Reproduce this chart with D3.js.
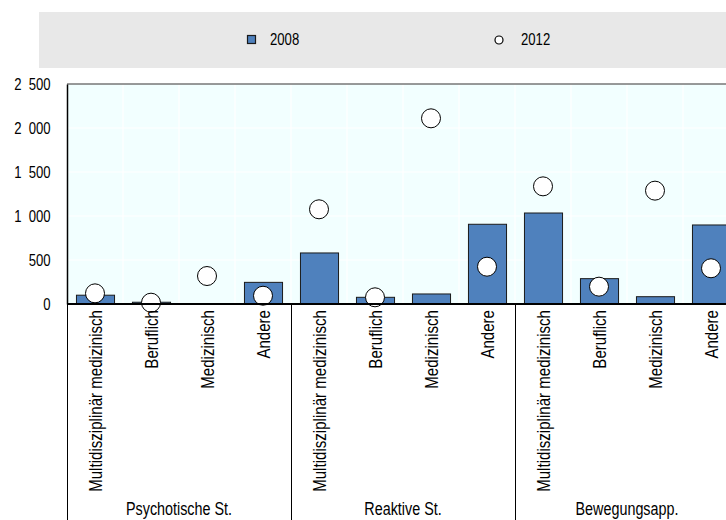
<!DOCTYPE html>
<html><head><meta charset="utf-8">
<script src="https://cdn.jsdelivr.net/npm/d3@7"></script>
<style>body{margin:0;background:#fff}svg{display:block}text{font-family:"Liberation Sans",Arial,sans-serif;fill:#000}</style>
</head><body>
<svg id="c" width="726" height="520"></svg>
<script>
const groups = ["Psychotische St.", "Reaktive St.", "Bewegungsapp."];
const items = ["Multidisziplinär medizinisch", "Beruflich", "Medizinisch", "Andere"];
const values2008 = [100, 20, 4, 246, 580, 76, 114, 906, 1034, 288, 83, 898];
const values2012 = [121, 15, 318, 94, 1076, 76, 2110, 424, 1337, 197, 1288, 406];
const yTicks = [0, 500, 1000, 1500, 2000, 2500];
const seriesNames = ["2008", "2012"];

const data = [];
groups.forEach((g, gi) => items.forEach((it, ii) => {
  const k = gi * items.length + ii;
  data.push({key: g + "|" + it, group: g, item: it, v08: values2008[k], v12: values2012[k]});
}));

const NX = 0.82; // narrow-font emulation
const svg = d3.select("#c");
const L = 67, R = 739, T = 84, B = 304;
const x = d3.scaleBand().domain(data.map(d => d.key)).range([L, R]).paddingInner(0.32).paddingOuter(0.16);
const xb = d3.scaleBand().domain(data.map(d => d.key)).range([L, R]);
const gx = d3.scaleBand().domain(groups).range([L, R]);
const y = d3.scaleLinear().domain([0, 2500]).range([B, T]);

// legend
svg.append("rect").attr("x", 39).attr("y", 12).attr("width", 687).attr("height", 56).attr("fill", "#e8e8e8");
svg.append("rect").attr("x", 247.5).attr("y", 35.5).attr("width", 8).attr("height", 8).attr("fill", "#4f81bd").attr("stroke", "#1a1a1a").attr("stroke-width", 1.2);
svg.append("text").attr("transform", `translate(270,45) scale(${NX},1)`).attr("font-size", 16).text(seriesNames[0]);
svg.append("circle").attr("cx", 499).attr("cy", 40).attr("r", 4).attr("fill", "#fff").attr("stroke", "#000").attr("stroke-width", 1.2);
svg.append("text").attr("transform", `translate(521,45) scale(${NX},1)`).attr("font-size", 16).text(seriesNames[1]);

// plot bg
svg.append("rect").attr("x", L).attr("y", T).attr("width", R - L).attr("height", B - T).attr("fill", "#f2ffff");
// gridlines
svg.append("g").selectAll("line").data(yTicks.slice(1)).join("line")
  .attr("x1", L).attr("x2", R).attr("y1", d => y(d)).attr("y2", d => y(d)).attr("stroke", "#fff").attr("stroke-width", 1.2);
svg.append("g").selectAll("line").data(data.slice(1)).join("line")
  .attr("x1", d => xb(d.key)).attr("x2", d => xb(d.key)).attr("y1", T).attr("y2", B).attr("stroke", "#fff").attr("stroke-width", 1.2);

// bars
svg.append("g").selectAll("rect").data(data).join("rect")
  .attr("x", d => x(d.key) + 0.5).attr("y", d => y(d.v08)).attr("width", x.bandwidth())
  .attr("height", d => B - y(d.v08)).attr("fill", "#4f81bd").attr("stroke", "#1a1a1a").attr("stroke-width", 1);

// top border and y axis
svg.append("line").attr("x1", L).attr("x2", R).attr("y1", T).attr("y2", T).attr("stroke", "#333").attr("stroke-width", 1);
const yAxis = d3.axisLeft(y).tickValues(yTicks).tickSize(0).tickPadding(20)
  .tickFormat(d => d3.format(",")(d).replace(/,/g, "\u00a0\u00a0"));
const ya = svg.append("g").attr("transform", `translate(${L},0)`).call(yAxis);
ya.select(".domain").attr("stroke", "#000").attr("stroke-width", 1.5);
ya.selectAll("text").attr("font-size", 16).attr("font-family", null).attr("fill", "#000")
  .attr("transform", `scale(${NX},1)`);

// circles
svg.append("g").selectAll("circle").data(data).join("circle")
  .attr("cx", d => xb(d.key) + xb.bandwidth() / 2).attr("cy", d => y(d.v12)).attr("r", 9.5)
  .attr("fill", "#fff").attr("stroke", "#000").attr("stroke-width", 1);

// baseline
svg.append("line").attr("x1", L).attr("x2", R).attr("y1", B).attr("y2", B).attr("stroke", "#000").attr("stroke-width", 2);

// category separators
svg.append("g").selectAll("line").data(groups).join("line")
  .attr("x1", d => Math.round(gx(d)) + 0.5).attr("x2", d => Math.round(gx(d)) + 0.5).attr("y1", B).attr("y2", 520)
  .attr("stroke", "#000").attr("stroke-width", 1);

// item labels (rotated)
svg.append("g").selectAll("text").data(data).join("text")
  .attr("transform", d => `translate(${xb(d.key) + xb.bandwidth() / 2 + 6.5},310) rotate(-90) scale(${NX},1)`)
  .attr("text-anchor", "end").attr("font-size", 18.4).text(d => d.item);

// group labels
svg.append("g").selectAll("text").data(groups).join("text")
  .attr("transform", d => `translate(${gx(d) + gx.bandwidth() / 2},515) scale(${NX},1)`)
  .attr("text-anchor", "middle").attr("font-size", 17.5).text(d => d);
</script>
</body></html>
